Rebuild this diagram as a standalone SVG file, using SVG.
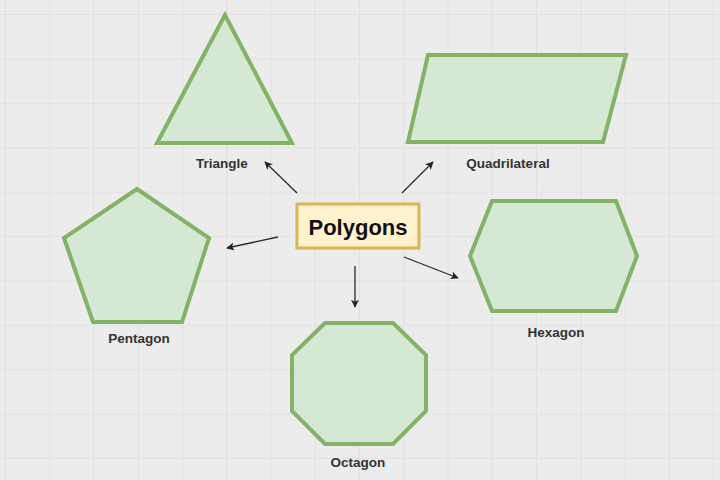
<svg xmlns="http://www.w3.org/2000/svg" width="720" height="480" viewBox="0 0 720 480">
  <defs>
    <pattern id="grid" x="5" y="14" width="44.25" height="44.4" patternUnits="userSpaceOnUse">
      <path d="M0 0 H44.25 M0 0 V44.4" fill="none" stroke="#d8d8d8" stroke-width="1.2"/>
    </pattern>
    <marker id="arr" viewBox="0 0 10 10" refX="9" refY="5" markerWidth="8" markerHeight="8" markerUnits="userSpaceOnUse" orient="auto">
      <path d="M0 0 L10 5 L0 10 L2.5 5 Z" fill="#222"/>
    </marker>
    <style>
      .shape { fill: #d5e8d4; stroke: #82b366; stroke-width: 4; stroke-linejoin: miter; }
      .lbl { font-family: "Liberation Sans", Arial, sans-serif; font-weight: bold; font-size: 13.5px; fill: #333; text-anchor: middle; }
      .conn { stroke: #2a2a2a; stroke-width: 1.3; fill: none; marker-end: url(#arr); }
    </style>
  </defs>
  <rect width="720" height="480" fill="#ececec"/>
  <rect width="720" height="480" fill="url(#grid)"/>

  <g id="triangle">
    <polygon class="shape" points="225,15 157,143 292,143"/>
    <text class="lbl" x="222" y="168">Triangle</text>
  </g>
  <g id="quadrilateral">
    <polygon class="shape" points="428,55 626,55 603,142 408,142"/>
    <text class="lbl" x="508" y="168">Quadrilateral</text>
  </g>
  <g id="pentagon">
    <polygon class="shape" points="137,189 209,238 182,322 93,322 64,238"/>
    <text class="lbl" x="139" y="343">Pentagon</text>
  </g>
  <g id="hexagon">
    <polygon class="shape" points="492,201 616,201 637,256 616,311 492,311 470,256"/>
    <text class="lbl" x="556" y="337">Hexagon</text>
  </g>
  <g id="octagon">
    <polygon class="shape" points="325,323 393,323 426,355 426,411 393,444 325,444 292,411 292,355"/>
    <text class="lbl" x="358" y="467">Octagon</text>
  </g>
  <g id="polygons">
    <rect x="297" y="204" width="122" height="44" fill="#fff2cc" stroke="#d6b656" stroke-width="3"/>
    <text x="358" y="234.5" font-family="Liberation Sans, Arial, sans-serif" font-weight="bold" font-size="22" fill="#111" text-anchor="middle">Polygons</text>
  </g>

  <g id="connectors">
    <line class="conn" x1="297" y1="193" x2="265" y2="162"/>
    <line class="conn" x1="402" y1="193" x2="433" y2="162"/>
    <line class="conn" x1="278" y1="237" x2="227" y2="248"/>
    <line class="conn" x1="355" y1="266" x2="355" y2="307"/>
    <line class="conn" x1="404" y1="257" x2="458" y2="278"/>
  </g>
</svg>
